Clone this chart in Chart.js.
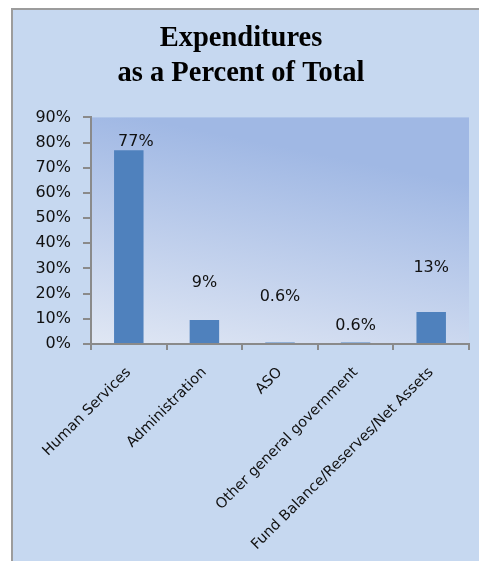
<!DOCTYPE html>
<html lang="en">
<head>
  <meta charset="UTF-8">
  <title>Expenditures as a Percent of Total</title>
  <script src="https://cdn.jsdelivr.net/npm/chart.js"></script>
  <style>
    html, body { margin: 0; padding: 0; background: #fff; }
    body { width: 479px; height: 561px; position: relative; overflow: hidden; }
    #box {
      position: absolute; left: 11px; top: 8px; right: -10px; bottom: -10px;
      border-left: 2px solid #9c9c9c; border-top: 2px solid #9c9c9c;
      background: #c6d8f0;
    }
    #chart { position: absolute; left: 0; top: 0; }
  </style>
</head>
<body>
  <div id="box"></div>
  <canvas id="chart" width="479" height="561"></canvas>

  <script>
    // data
    const categories = ["Human Services", "Administration", "ASO", "Other general government", "Fund Balance/Reserves/Net Assets"];
    const percents = [77, 9.5, 0.6, 0.6, 12.7];
    const valueLabels = ["77%", "9%", "0.6%", "0.6%", "13%"];
    const yTicks = [0, 10, 20, 30, 40, 50, 60, 70, 80, 90];

    // how far above the bar top each value label sits (px), as in the original
    const labelLift = [8, 37, 46, 17, 44];
    const labelShift = [7, 0, 0, 0, 0];

    const axisGrey = '#8a8a8a';

    const plotBackground = {
      id: 'plotBackground',
      beforeDraw(chart) {
        const { ctx, chartArea: a } = chart;
        const g = ctx.createLinearGradient(a.left, a.bottom, a.left + (a.right - a.left) * 0.12, a.top);
        g.addColorStop(0, '#e0e7f4');
        g.addColorStop(1, '#a0b8e4');
        ctx.save();
        ctx.fillStyle = g;
        ctx.fillRect(a.left, a.top, a.right - a.left, a.bottom - a.top);
        ctx.restore();
      }
    };

    const valueText = {
      id: 'valueText',
      afterDatasetsDraw(chart) {
        const { ctx } = chart;
        const meta = chart.getDatasetMeta(0);
        ctx.save();
        ctx.font = '16px "DejaVu Sans"';
        ctx.fillStyle = '#111';
        ctx.textAlign = 'center';
        ctx.textBaseline = 'middle';
        meta.data.forEach((bar, i) => {
          ctx.fillText(valueLabels[i], bar.x + labelShift[i], bar.y - labelLift[i]);
        });
        ctx.restore();
      }
    };

    new Chart(document.getElementById('chart'), {
      type: 'bar',
      data: {
        labels: categories,
        datasets: [{
          data: percents,
          backgroundColor: '#4f81bd',
          borderWidth: 0,
          barPercentage: 0.39,
          categoryPercentage: 1
        }]
      },
      options: {
        responsive: false,
        animation: false,
        layout: { padding: { left: 13, right: 10, top: 0, bottom: 0 } },
        plugins: {
          legend: { display: false },
          tooltip: { enabled: false },
          title: {
            display: true,
            text: ['Expenditures', 'as a Percent of Total'],
            color: '#000',
            font: { family: '"Liberation Serif"', size: 28.5, weight: 'bold', lineHeight: 1.2 },
            padding: { top: 22, bottom: 27 }
          }
        },
        scales: {
          x: {
            grid: { drawOnChartArea: false, drawTicks: true, tickLength: 6, color: axisGrey, lineWidth: 2, offset: true },
            border: { color: axisGrey, width: 2 },
            ticks: {
              color: '#111',
              font: { family: '"DejaVu Sans"', size: 14.5 },
              minRotation: 45,
              maxRotation: 45,
              autoSkip: false,
              padding: 14
            },
            afterFit(scale) { scale.height = 217; }
          },
          y: {
            min: 0,
            max: 90,
            afterBuildTicks(scale) { scale.ticks = yTicks.map(v => ({ value: v })); },
            grid: { drawOnChartArea: false, drawTicks: true, tickLength: 8, color: axisGrey, lineWidth: 2 },
            border: { color: axisGrey, width: 2 },
            ticks: {
              color: '#111',
              font: { family: '"DejaVu Sans"', size: 16 },
              padding: 12,
              callback: v => v + '%'
            },
            afterFit(scale) { scale.width = 78; }
          }
        }
      },
      plugins: [plotBackground, valueText]
    });
  </script>
</body>
</html>
